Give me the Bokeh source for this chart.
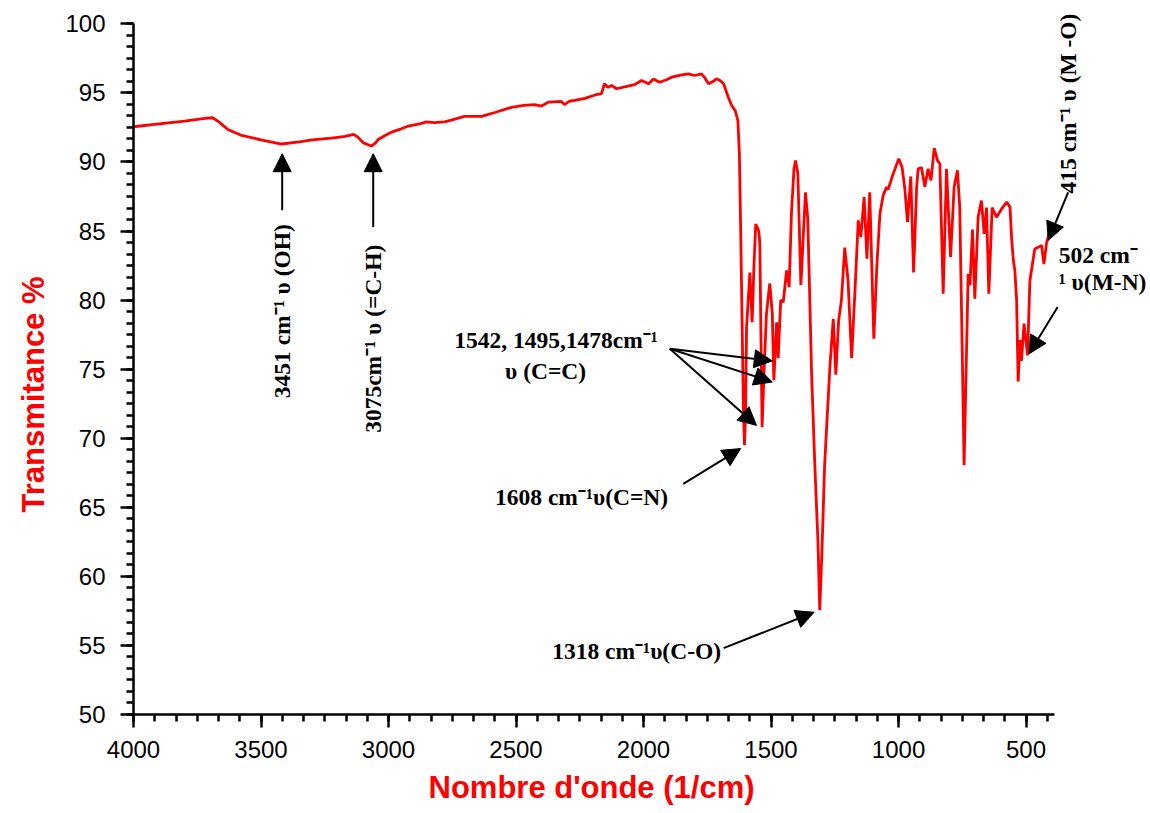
from bokeh.plotting import figure
from bokeh.models import Range1d, SingleIntervalTicker, Label, Arrow, NormalHead, Title
from bokeh.embed import file_html
from bokeh.resources import INLINE
import math

wavenumber = [4000, 3900, 3800, 3720, 3690, 3665, 3630, 3580, 3500, 3420, 3350, 3300, 3224, 3170, 3137,
              3120, 3100, 3080, 3067, 3050, 3039, 3010, 2988, 2950, 2922, 2880, 2851, 2820, 2780, 2740,
              2702, 2635, 2580, 2518, 2470, 2427, 2400, 2373, 2322, 2310, 2290, 2271, 2230, 2190, 2165,
              2153, 2140, 2125, 2106, 2070, 2035, 2008, 1980, 1961, 1937, 1910, 1890, 1850, 1824, 1800,
              1773, 1760, 1745, 1730, 1714, 1700, 1686, 1668, 1655, 1640, 1630, 1624, 1619, 1614, 1608,
              1604, 1600, 1596, 1583, 1574, 1567, 1560, 1548, 1544, 1540, 1535, 1528, 1518, 1505, 1495,
              1489, 1478, 1472, 1462, 1452, 1439, 1429, 1420, 1410, 1404, 1395, 1383, 1365, 1356, 1348,
              1341, 1328, 1316, 1309, 1300, 1290, 1280, 1269, 1256, 1246, 1235, 1224, 1211, 1198, 1184,
              1170, 1158, 1148, 1135, 1124, 1113, 1097, 1085, 1073, 1060, 1047, 1041, 1021, 999, 986,
              975, 965, 952, 941, 929, 923, 910, 897, 884, 873, 860, 847, 838, 825, 812, 796, 782, 769,
              760, 750, 743, 735, 727, 720, 710, 701, 688, 675, 664, 655, 646, 633, 616, 596, 576, 563,
              557, 550, 544, 537, 531, 524, 518, 508, 494, 485, 466, 439, 430, 420, 407, 398]
transmittance = [92.55, 92.75, 92.95, 93.15, 93.2, 92.9, 92.35, 91.95, 91.6, 91.3, 91.45, 91.6, 91.73, 91.85, 92.0,
                 91.8, 91.4, 91.25, 91.15, 91.4, 91.65, 91.95, 92.16, 92.4, 92.6, 92.75, 92.9, 92.85, 92.9, 93.1,
                 93.3, 93.3, 93.6, 93.95, 94.1, 94.15, 94.05, 94.33, 94.38, 94.15, 94.4, 94.45, 94.6, 94.85, 94.95,
                 95.66, 95.4, 95.54, 95.3, 95.45, 95.6, 95.9, 95.66, 96.0, 95.77, 95.95, 96.14, 96.3, 96.38, 96.26,
                 96.38, 96.1, 95.66, 95.8, 96.02, 95.9, 95.66, 94.7, 94.1, 93.7, 93.0, 90.5, 85.0, 79.0, 71.8,
                 69.5, 71.8, 78.0, 82.0, 78.4, 82.5, 85.5, 85.0, 84.1, 78.0, 70.8, 74.5, 79.0, 81.2, 79.0,
                 74.2, 78.4, 75.8, 80.0, 79.85, 82.15, 80.94, 86.25, 89.5, 90.1, 89.2, 81.1, 87.8, 85.9, 80.0,
                 74.7, 67.9, 62.5, 57.55, 62.0, 68.0, 71.5, 75.2, 78.65, 74.6, 78.5, 80.0, 83.8, 81.4, 75.8,
                 81.0, 85.77, 84.56, 87.45, 83.0, 87.8, 77.2, 82.5, 86.25, 87.6, 88.18, 88.0, 89.15, 90.23, 89.6,
                 88.0, 85.65, 88.95, 82.0, 88.2, 89.5, 89.6, 88.2, 89.5, 88.66, 91.0, 90.1, 89.87, 80.46, 89.5,
                 83.1, 88.2, 89.4, 86.7, 76.0, 68.04, 75.0, 81.9, 81.07, 85.1, 80.1, 86.0, 87.2, 84.8, 86.7,
                 80.46, 86.7, 86.0, 86.6, 87.1, 86.73, 84.56, 82.9, 82.15, 80.0, 74.1, 77.1, 75.6, 78.3, 76.0,
                 81.4, 83.7, 83.96, 82.6, 84.1, 85.0, 85.3]

x_axis_bounds = (388, 4000)
y_axis_bounds = (50, 100)
x_ticks_interval = 500
y_ticks_interval = 5
x_label = "Nombre d'onde (1/cm)"
y_label = "Transmitance %"

p = figure(width=1150, height=813, output_backend="svg", toolbar_location=None,
           x_range=Range1d(4000, 12), y_range=Range1d(50, 100.82),
           min_border_left=133, min_border_right=0, min_border_top=12, min_border_bottom=99)
p.outline_line_color = None
p.xgrid.visible = False
p.ygrid.visible = False
p.background_fill_color = "white"

p.line(wavenumber, transmittance, line_color="#ff0000", line_width=2.8)

for ax, tk, bnd in ((p.xaxis[0], SingleIntervalTicker(interval=x_ticks_interval, num_minor_ticks=6), x_axis_bounds),
                    (p.yaxis[0], SingleIntervalTicker(interval=y_ticks_interval, num_minor_ticks=6), y_axis_bounds)):
    ax.ticker = tk
    ax.bounds = bnd
    ax.axis_line_width = 2.5
    ax.axis_line_color = "black"
    ax.major_tick_line_width = 2.5
    ax.minor_tick_line_width = 2.5
    ax.major_tick_out = 13
    ax.major_tick_in = 0
    ax.minor_tick_out = 7
    ax.minor_tick_in = 0
    ax.major_label_text_font = "Liberation Sans"
    ax.major_label_text_font_size = "24px"
    ax.major_label_text_color = "black"

p.xaxis.major_label_standoff = 13
p.yaxis.major_label_standoff = 15

# axis titles placed in the side panels so they can be positioned like the original
p.add_layout(Title(text=x_label, align="left", offset=295, standoff=15,
                   text_font="Liberation Sans", text_font_style="bold", text_font_size="31px",
                   text_color="#ff0000"), "below")
p.add_layout(Title(text=y_label, align="left", offset=202, standoff=24,
                   text_font="Liberation Sans", text_font_style="bold", text_font_size="31px",
                   text_color="#ff0000"), "left")

ann_font = "Liberation Serif"
ann_size = "23.5px"

def add_label(x, y, text, angle=0.0, align="center"):
    p.add_layout(Label(x=x, y=y, text=text, angle=angle, text_align=align, text_baseline="middle",
                       text_font=ann_font, text_font_size=ann_size, text_font_style="bold",
                       text_color="black"))

def add_arrow(x0, y0, x1, y1):
    p.add_layout(Arrow(end=NormalHead(size=18, fill_color="black", line_color="black", line_width=1),
                       x_start=x0, y_start=y0, x_end=x1, y_end=y1,
                       line_color="black", line_width=2))

# vertical annotations
add_label(3416, 79.2, "3451 cm\u207b\u00b9 \u03c5 (OH)", angle=math.pi / 2)
add_arrow(3417, 86.5, 3417, 90.6)
add_label(3059, 77.2, "3075cm\u207b\u00b9 \u03c5 (=C-H)", angle=math.pi / 2)
add_arrow(3060, 85.3, 3060, 90.6)

# C=C
add_label(2343, 77.08, "1542, 1495,1478cm\u207b\u00b9")
add_label(2384, 74.9, "\u03c5 (C=C)")
add_arrow(1897, 76.48, 1495, 75.6)
add_arrow(1897, 76.48, 1495, 74.07)
add_arrow(1897, 76.48, 1557, 70.93)

# C=N
add_label(2243, 65.72, "1608 cm\u207b\u00b9\u03c5(C=N)")
add_arrow(1844, 66.7, 1619, 69.25)

# C-O
add_label(2027, 54.58, "1318 cm\u207b\u00b9\u03c5(C-O)")
add_arrow(1686, 54.8, 1331, 57.4)

# M-O
add_label(337, 94.23, "415 cm\u207b\u00b9 \u03c5 (M -O)", angle=math.pi / 2)
add_arrow(335, 87.8, 413, 84.33)

# M-N
add_label(372, 83.23, "502 cm\u207b", align="left")
add_label(372, 81.28, "\u00b9 \u03c5(M-N)", align="left")
add_arrow(376, 79.5, 489, 76.1)

open("out.html", "w").write(file_html(p, INLINE))
